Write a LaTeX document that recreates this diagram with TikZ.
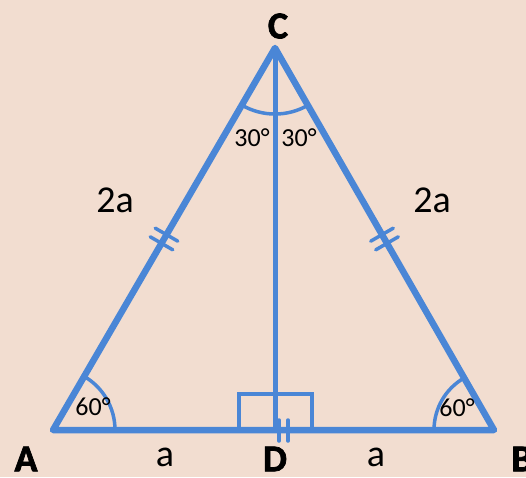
\documentclass[tikz,border=0pt]{standalone}
\usepackage{fontspec}
\setmainfont{Carlito}
\newfontfamily\heavyfont{Carlito Bold}[FakeBold=2]
\usetikzlibrary{calc}
\definecolor{bg}{RGB}{242,221,208}
\definecolor{ln}{RGB}{74,134,214}
\begin{document}
\begin{tikzpicture}[x=1pt,y=1pt,
  side/.style={draw=ln,line width=6.5pt,line cap=round,line join=round},
  thinln/.style={draw=ln,line width=3.5pt,line cap=round},
  tick/.style={draw=ln,line width=3.5pt,line cap=round},
  lab/.style={font=\fontsize{38}{38}\selectfont,text=black,inner sep=0pt},
  vtx/.style={font=\fontsize{38}{38}\heavyfont,text=black,inner sep=0pt},
  ang/.style={font=\fontsize{26}{26}\selectfont,text=black,inner sep=0pt}]
\fill[bg] (0,0) rectangle (526,477);
\useasboundingbox (0,0) rectangle (526,477);
\coordinate (A) at (53,47);
\coordinate (B) at (494,47);
\coordinate (C) at (275,429);
\coordinate (D) at (275,47);
% right-angle box
\draw[thinln,line cap=butt] (239,47) -- (239,83) -- (312,83) -- (312,47);
% angle arcs
\draw[thinln] ($(A)+(62,0)$) arc[start angle=0,end angle=60,radius=62];
\draw[thinln] ($(B)+(-60,0)$) arc[start angle=180,end angle=120,radius=60];
\draw[thinln] ($(C)+(-33,-57.2)$) arc[start angle=240,end angle=300,radius=66];
% median
\draw[draw=ln,line width=5pt] (C) -- (D);
% triangle
\draw[side] (A) -- (B) -- (C) -- cycle;
% ticks on sides
\begin{scope}[shift={($(A)!0.5!(C)$)},rotate=60]
  \draw[tick] (-5,-13) -- (-5,13);
  \draw[tick] (5,-13) -- (5,13);
\end{scope}
\begin{scope}[shift={($(B)!0.5!(C)$)},rotate=-60]
  \draw[tick] (-5,-13) -- (-5,13);
  \draw[tick] (5,-13) -- (5,13);
\end{scope}
% ticks at D
\coordinate (t1a) at (279,36); \coordinate (t1b) at (279,57);
\coordinate (t2a) at (288,36); \coordinate (t2b) at (288,57);
\draw[tick] (t1a) -- (t1b);
\draw[tick] (t2a) -- (t2b);
% labels
\node[vtx] (lC) at (278,451) {C};
\node[vtx] (lA) at (26,18) {A};
\node[vtx] (lB) at (522,18) {B};
\node[vtx] (lD) at (275,18) {D};
\node[lab] (la1) at (165,20) {a};
\node[lab] (la2) at (376,20) {a};
\node[lab] (l2a1) at (115,277) {2a};
\node[lab] (l2a2) at (432,277) {2a};
\node[ang] (c30l) at (252,339) {30°};
\node[ang] (c30r) at (299,339) {30°};
\node[ang] (a60) at (93,70) {60°};
\node[ang] (b60) at (457,69) {60°};
\end{tikzpicture}
\end{document}
